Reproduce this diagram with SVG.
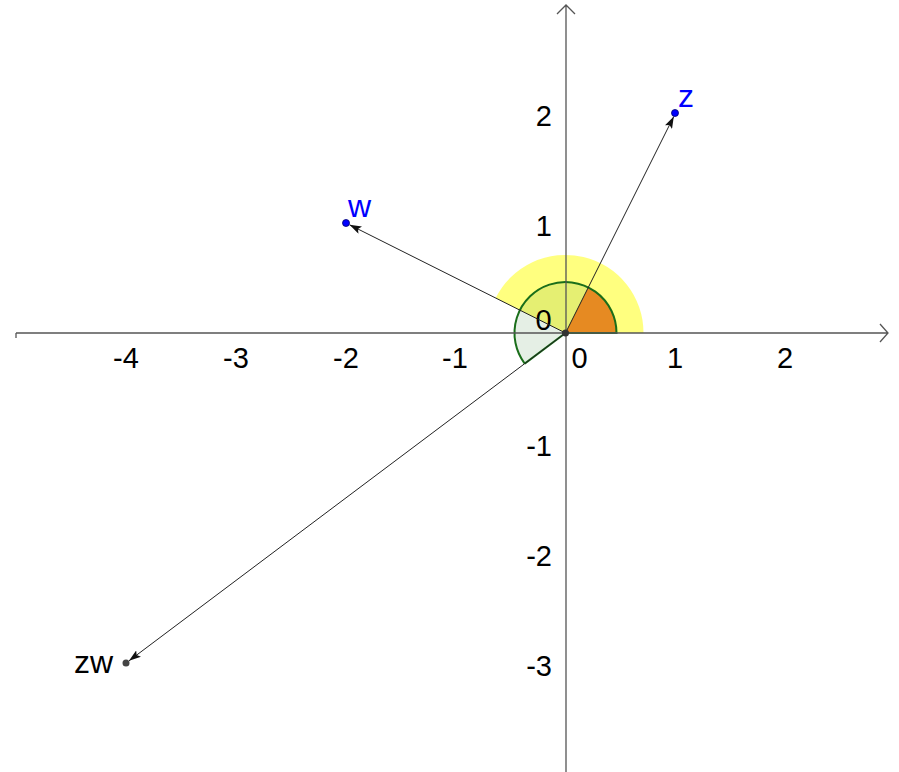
<svg xmlns="http://www.w3.org/2000/svg" width="899" height="772" viewBox="0 0 899 772">
<defs>
<style>
.axis{stroke:#555;stroke-width:1.3;fill:none}
.vec{stroke:#222;stroke-width:1;fill:none}
.lbl{font-family:"Liberation Sans",Arial,sans-serif;font-size:29px;fill:#000}
.pt{font-family:"Liberation Sans",Arial,sans-serif;font-size:32px}
</style>
<marker id="ah" viewBox="0 0 12 8" refX="12" refY="4" markerWidth="12" markerHeight="8" markerUnits="userSpaceOnUse" orient="auto">
<path d="M0,0 L12,4 L0,8 L2.5,4 Z" fill="#111"/>
</marker>
</defs>
<rect width="899" height="772" fill="#fff"/>
<g id="sectors">
<path d="M565.5,333 L643.5,333 A78,78 0 0 0 495.7,298.1 Z" fill="#ffff00" fill-opacity="0.5"/>
<path d="M565.5,333 L616.5,333 A51,51 0 1 0 524.7,363.6 Z" fill="#006400" fill-opacity="0.1"/>
<path d="M565.5,333 L616.5,333 A51,51 0 0 0 588.3,287.4 Z" fill="#e68a22"/>
<path d="M524.7,363.6 L565.5,333 L616.5,333 A51,51 0 1 0 524.7,363.6" fill="none" stroke="#1a6e1a" stroke-width="2"/>
</g>
<g id="axes">
<path class="axis" d="M16,333 H888 M880,324 L888,333 L880,342"/>
<path class="axis" d="M566,772 V5 M557,14 L566,5 L575,14"/>
<path class="axis" d="M16,333 V338"/>
</g>
<g id="ticks">
<text class="lbl" x="126" y="368" text-anchor="middle">-4</text>
<text class="lbl" x="236" y="368" text-anchor="middle">-3</text>
<text class="lbl" x="346" y="368" text-anchor="middle">-2</text>
<text class="lbl" x="455" y="368" text-anchor="middle">-1</text>
<text class="lbl" x="579.5" y="368" text-anchor="middle">0</text>
<text class="lbl" x="675" y="368" text-anchor="middle">1</text>
<text class="lbl" x="785" y="368" text-anchor="middle">2</text>
<text class="lbl" x="552" y="126" text-anchor="end">2</text>
<text class="lbl" x="552" y="236" text-anchor="end">1</text>
<text class="lbl" x="552" y="456" text-anchor="end">-1</text>
<text class="lbl" x="552" y="566" text-anchor="end">-2</text>
<text class="lbl" x="552" y="676" text-anchor="end">-3</text>
<text class="lbl" x="543.5" y="330" text-anchor="middle">0</text>
</g>
<g id="connectors">
<line class="vec" x1="565.5" y1="333" x2="673.8" y2="116.4" marker-end="url(#ah)"/>
<line class="vec" x1="565.5" y1="333" x2="349.5" y2="224.8" marker-end="url(#ah)"/>
<line class="vec" x1="565.5" y1="333" x2="129" y2="660.8" marker-end="url(#ah)"/>
</g>
<g id="origin"><circle cx="565.5" cy="333" r="3.5" fill="#333"/></g>
<g id="z">
<circle cx="675" cy="113" r="3.5" fill="#0000ff" stroke="#00006e" stroke-width="0.8"/>
<text class="pt" x="678" y="107" fill="#0000ff">z</text>
</g>
<g id="w">
<circle cx="346" cy="223" r="3.5" fill="#0000ff" stroke="#00006e" stroke-width="0.8"/>
<text class="pt" x="348" y="217" fill="#0000ff">w</text>
</g>
<g id="zw">
<circle cx="126" cy="663" r="3.5" fill="#444"/>
<text class="pt" x="74" y="673" fill="#000">zw</text>
</g>
</svg>
